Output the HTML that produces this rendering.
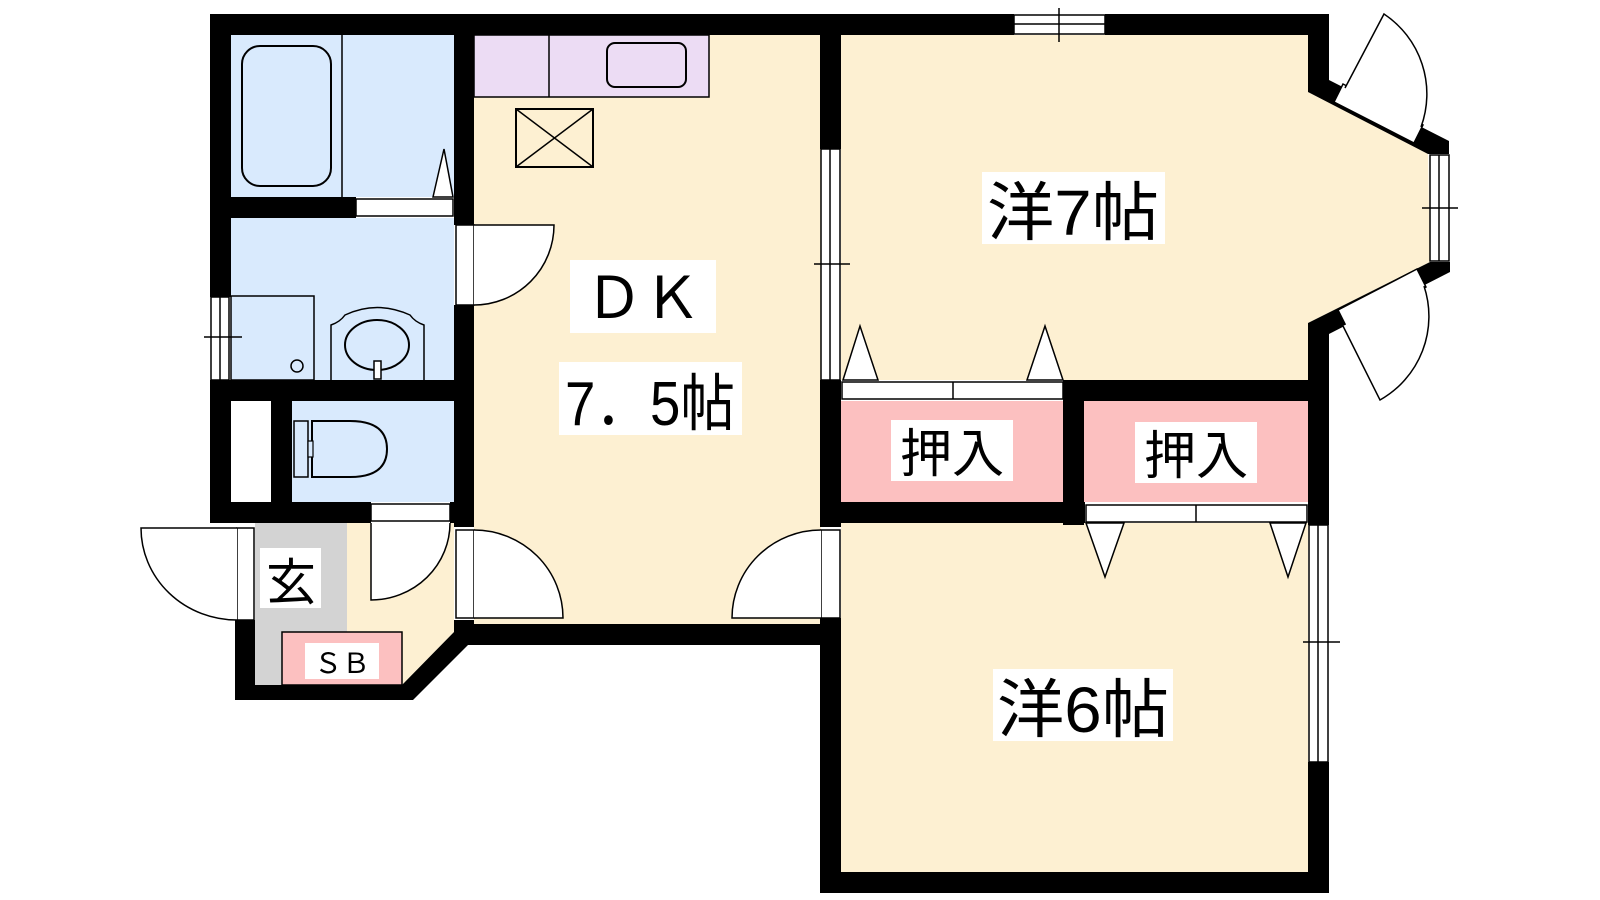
<!DOCTYPE html>
<html><head><meta charset="utf-8"><style>
html,body{margin:0;padding:0;background:#fff;}
svg{display:block}
text{font-family:"Liberation Sans","Noto Sans CJK JP",sans-serif;fill:#000}
</style></head><body>
<svg width="1600" height="900" viewBox="0 0 1600 900" xmlns="http://www.w3.org/2000/svg">
<rect x="231" y="35" width="223" height="162" fill="#d9eafd"/>
<rect x="231" y="218" width="223" height="162" fill="#d9eafd"/>
<rect x="292" y="401" width="162" height="101" fill="#d9eafd"/>
<rect x="231" y="401" width="40" height="101" fill="#fff"/>
<rect x="474" y="35" width="347" height="589" fill="#fdf0d2"/>
<polygon points="347,523 454,523 454,632 402,685 347,685" fill="#fdf0d2"/>
<rect x="255" y="523" width="92" height="162" fill="#d3d3d3"/>
<polygon points="841,35 1308,35 1308,92 1428,154 1430,262 1308,323 1308,380 841,380" fill="#fdf0d2"/>
<rect x="841" y="523" width="467" height="349" fill="#fdf0d2"/>
<rect x="841" y="401" width="222" height="101" fill="#fcc0c0"/>
<rect x="1084" y="401" width="224" height="101" fill="#fcc0c0"/>
<rect x="282" y="632" width="120" height="53" fill="#fcc0c0" stroke="#000" stroke-width="1.5"/>
<rect x="474" y="35" width="235" height="62" fill="#ecdcf4" stroke="#000" stroke-width="1.5"/>
<line x1="549" y1="35" x2="549" y2="97" stroke="#000" stroke-width="1.5"/>
<rect x="607" y="43" width="79" height="44" rx="8" fill="none" stroke="#000" stroke-width="2"/>
<rect x="516" y="109" width="77" height="58" fill="none" stroke="#000" stroke-width="2"/>
<path d="M516,109 L593,167 M593,109 L516,167" stroke="#000" stroke-width="1.5"/>
<rect x="242" y="46" width="89" height="140" rx="18" fill="none" stroke="#000" stroke-width="2"/>
<line x1="342" y1="35" x2="342" y2="197" stroke="#000" stroke-width="1.5"/>
<polygon points="433,197 444,149 453,197" fill="#fff" stroke="#000" stroke-width="1.5"/>
<rect x="231" y="296" width="83" height="84" fill="none" stroke="#000" stroke-width="1.5"/>
<circle cx="297" cy="366" r="6" fill="none" stroke="#000" stroke-width="1.5"/>
<path d="M331,380 L331,325 Q340,322 345,315 Q377,300 410,315 Q415,322 424,325 L424,380" fill="none" stroke="#000" stroke-width="1.5"/>
<ellipse cx="377" cy="345" rx="32" ry="25" fill="none" stroke="#000" stroke-width="2"/>
<rect x="374" y="361" width="7" height="18" fill="#fff" stroke="#000" stroke-width="1.5"/>
<path d="M312,421 L350,421 Q387,421 387,449 Q387,477 350,477 L312,477 Z" fill="none" stroke="#000" stroke-width="2"/>
<rect x="294" y="421" width="14" height="56" fill="none" stroke="#000" stroke-width="1.5"/>
<rect x="308" y="441" width="5" height="16" fill="#d9eafd" stroke="#000" stroke-width="1.2"/>
<g fill="#000">
<rect x="210" y="14" width="610" height="21"/>
<rect x="841" y="14" width="173" height="21"/>
<rect x="1105" y="14" width="224" height="21"/>
<rect x="820" y="14" width="21" height="135"/>
<rect x="210" y="14" width="21" height="283"/>
<rect x="210" y="380" width="21" height="143"/>
<rect x="231" y="197" width="125" height="21"/>
<rect x="454" y="14" width="20" height="211"/>
<rect x="454" y="305" width="20" height="222"/>
<rect x="210" y="380" width="264" height="21"/>
<rect x="271" y="401" width="21" height="101"/>
<rect x="210" y="502" width="161" height="21"/>
<rect x="450" y="502" width="24" height="21"/>
<rect x="235" y="620" width="20" height="80"/>
<rect x="235" y="685" width="178" height="15"/>
<polygon points="402,685 454,632 454,620 474,620 474,645 468,645 413,700 402,700"/>
<rect x="454" y="624" width="387" height="21"/>
<rect x="820" y="380" width="21" height="147"/>
<rect x="820" y="618" width="21" height="275"/>
<rect x="1063" y="380" width="266" height="21"/>
<rect x="1063" y="380" width="21" height="145"/>
<rect x="820" y="502" width="265" height="21"/>
<rect x="1308" y="323" width="21" height="202"/>
<rect x="1308" y="762" width="21" height="131"/>
<rect x="820" y="872" width="509" height="21"/>
<polygon points="1308,14 1329,14 1329,80 1449,141 1449,154 1428,154 1308,92"/>
<polygon points="1430,262 1450,262 1450,272 1329,334 1308,334 1308,323"/>
</g>
<g fill="#fff" stroke="#000" stroke-width="1.5">
<rect x="356" y="199" width="97" height="17"/>
<rect x="1014" y="15" width="91" height="19"/>
<rect x="211" y="297" width="18" height="83"/>
<rect x="821" y="149" width="19" height="231"/>
<rect x="1309" y="525" width="19" height="237"/>
<rect x="1430" y="155" width="19" height="106"/>
<rect x="842" y="382" width="221" height="17"/>
<rect x="1086" y="505" width="221" height="17"/>
<rect x="371" y="504" width="79" height="17"/>
<rect x="456" y="225" width="18" height="80"/>
<rect x="456" y="530" width="18" height="88"/>
<rect x="237" y="528" width="17" height="92"/>
<rect x="821" y="530" width="19" height="88"/>
<polygon points="843,380 860,326 878,380"/>
<polygon points="1027,380 1045,326 1063,380"/>
<polygon points="1086,523 1105,577 1124,523"/>
<polygon points="1270,523 1288,577 1306,523"/>
<polygon points="1343,84 1423,125 1414,143 1334,102"/>
<polygon points="1426,287 1347,328 1338,310 1417,269"/>
</g>
<g stroke="#000" stroke-width="1.5" fill="none">
<line x1="953" y1="382" x2="953" y2="399"/>
<line x1="1196" y1="505" x2="1196" y2="522"/>
<line x1="1014" y1="24" x2="1105" y2="24"/><line x1="1059" y1="8" x2="1059" y2="42"/>
<line x1="220" y1="297" x2="220" y2="380"/><line x1="204" y1="337" x2="242" y2="337"/>
<line x1="830" y1="149" x2="830" y2="380"/><line x1="814" y1="264" x2="850" y2="264"/>
<line x1="1318" y1="525" x2="1318" y2="762"/><line x1="1303" y1="642" x2="1340" y2="642"/>
<line x1="1439" y1="155" x2="1439" y2="261"/><line x1="1422" y1="208" x2="1458" y2="208"/>
<path d="M474,225 L554,225 A80,80 0 0 1 474,305" fill="#fff"/>
<path d="M474,618 L563,618 A89,88 0 0 0 474,530" fill="#fff"/>
<path d="M821,618 L732,618 A89,88 0 0 1 821,530" fill="#fff"/>
<path d="M371,523 L371,600 A79,77 0 0 0 450,523" fill="#fff"/>
<path d="M237,528 L141,528 A96,92 0 0 0 237,620" fill="#fff"/>
<path d="M1345,88 L1384,14 A96,96 0 0 1 1421,127" fill="#fff"/>
<path d="M1343,326 L1380,400 A96,96 0 0 0 1424,286" fill="#fff"/>
</g>
<g fill="#fff">
<rect x="570" y="260" width="146" height="73"/>
<rect x="559" y="362" width="183" height="73"/>
<rect x="982" y="172" width="183" height="72"/>
<rect x="993" y="669" width="180" height="72"/>
<rect x="891" y="420" width="122" height="61"/>
<rect x="1135" y="422" width="122" height="61"/>
<rect x="260" y="548" width="61" height="60"/>
<rect x="305" y="643" width="74" height="36"/>
</g>
<text x="643" y="318" font-size="58" text-anchor="middle">ＤＫ</text>
<text x="650" y="425" font-size="62" text-anchor="middle" textLength="170" lengthAdjust="spacingAndGlyphs">7．5帖</text>
<text x="1073" y="235" font-size="64" text-anchor="middle" textLength="172" lengthAdjust="spacingAndGlyphs">洋7帖</text>
<text x="1083" y="732" font-size="64" text-anchor="middle" textLength="172" lengthAdjust="spacingAndGlyphs">洋6帖</text>
<text x="952" y="472" font-size="52" text-anchor="middle">押入</text>
<text x="1196" y="474" font-size="52" text-anchor="middle">押入</text>
<text x="291" y="600" font-size="50" text-anchor="middle">玄</text>
<text x="342" y="673" font-size="28" text-anchor="middle">ＳＢ</text>
</svg>
</body></html>
